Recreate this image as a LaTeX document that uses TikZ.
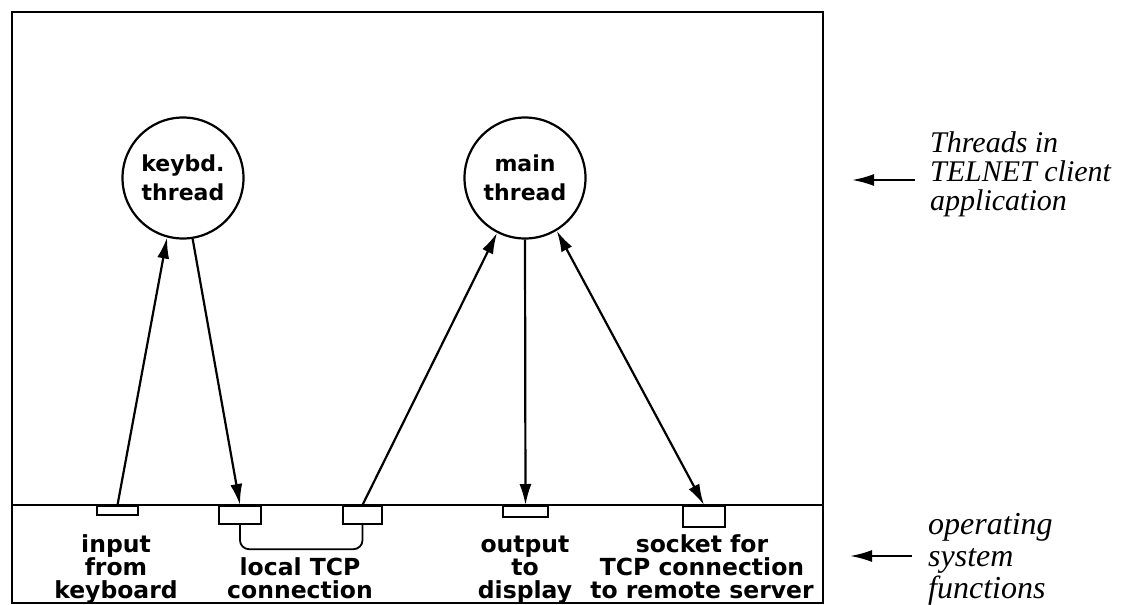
\documentclass[tikz,border=0pt]{standalone}
\usepackage{fontspec}
\newfontfamily\labfont{DejaVu Sans}
\newfontfamily\notefont{Liberation Serif}
\usetikzlibrary{arrows.meta}
\tikzset{
  frame/.style={line width=2.6pt},
  thread/.style={draw, circle, line width=2.2pt, minimum size=121pt, inner sep=0pt, align=center,
    font={\labfont\bfseries\fontsize{22}{29}\selectfont\lineskiplimit=-100pt}},
  osbox/.style={draw, rectangle, line width=2.2pt, inner sep=0pt, anchor=north},
  lab/.style={align=center, anchor=base, inner sep=0pt,
    font={\labfont\bfseries\fontsize{23.5}{23}\selectfont\lineskiplimit=-100pt}},
  note/.style={align=left, anchor=base west, inner sep=0pt},
  flow/.style={line width=2.2pt, -{Latex[length=21pt,width=12pt]}},
  flowboth/.style={line width=2.2pt, {Latex[length=21pt,width=12pt]}-{Latex[length=21pt,width=12pt]}},
  pointer/.style={line width=2.2pt, -{Latex[length=22pt,width=12pt]}}
}
\begin{document}
\begin{tikzpicture}[x=1pt,y=-1pt]
\useasboundingbox (0,0) rectangle (1144,605);
% outer frame and separator
\draw[frame] (12,12) rectangle (823,603);
\draw[frame] (12,505) -- (823,505);
% threads
\node[thread] (keybd) at (183,178) {keybd.\\thread};
\node[thread] (main) at (525,178) {main\\thread};
% OS function boxes
\node[osbox, minimum width=41pt, minimum height=9pt] (inbox) at (117.5,505) {};
\node[osbox, minimum width=42pt, minimum height=18pt] (tcpA) at (240,505) {};
\node[osbox, minimum width=39pt, minimum height=18pt] (tcpB) at (362.5,505) {};
\node[osbox, minimum width=45pt, minimum height=11pt] (outbox) at (525.5,505) {};
\node[osbox, minimum width=42pt, minimum height=21pt] (sockbox) at (704,505) {};
% local connection bracket
\draw[line width=1.8pt, rounded corners=9pt] (tcpA.south) -- ++(0,24) -| (tcpB.south);
% labels (anchor base = baseline of last line)
\node[lab] (linput) at (116,598) {input\\from\\keyboard};
\node[lab] (llocal) at (300,598) {local TCP\\connection};
\node[lab] (lout) at (525,598) {output\\to\\display};
\node[lab] (lsock) at (702,598) {socket for\\TCP connection\\to remote server};
% flows
\draw[flow] (inbox.north) -- (keybd.255.7);
\draw[flow] (keybd.279.5) -- (tcpA.north);
\draw[flow] (tcpB.north) -- (main.243.8);
\draw[flow] (main.south) -- (outbox.north);
\draw[flowboth] (main.301.4) -- (sockbox.north);
% right-hand notes
\node[note, font={\notefont\itshape\fontsize{30}{29}\selectfont\lineskiplimit=-100pt}] (napp) at (930,210) {Threads in\\TELNET client\\application};
\node[note, font={\notefont\itshape\fontsize{32}{32}\selectfont\lineskiplimit=-100pt}] (nos) at (928,598) {operating\\system\\functions};
\coordinate (pa1) at (915,180);
\coordinate (pa2) at (852,180);
\coordinate (pb1) at (912,556);
\coordinate (pb2) at (850,556);
\draw[pointer] (pa1) -- (pa2);
\draw[pointer] (pb1) -- (pb2);
\end{tikzpicture}
\end{document}
